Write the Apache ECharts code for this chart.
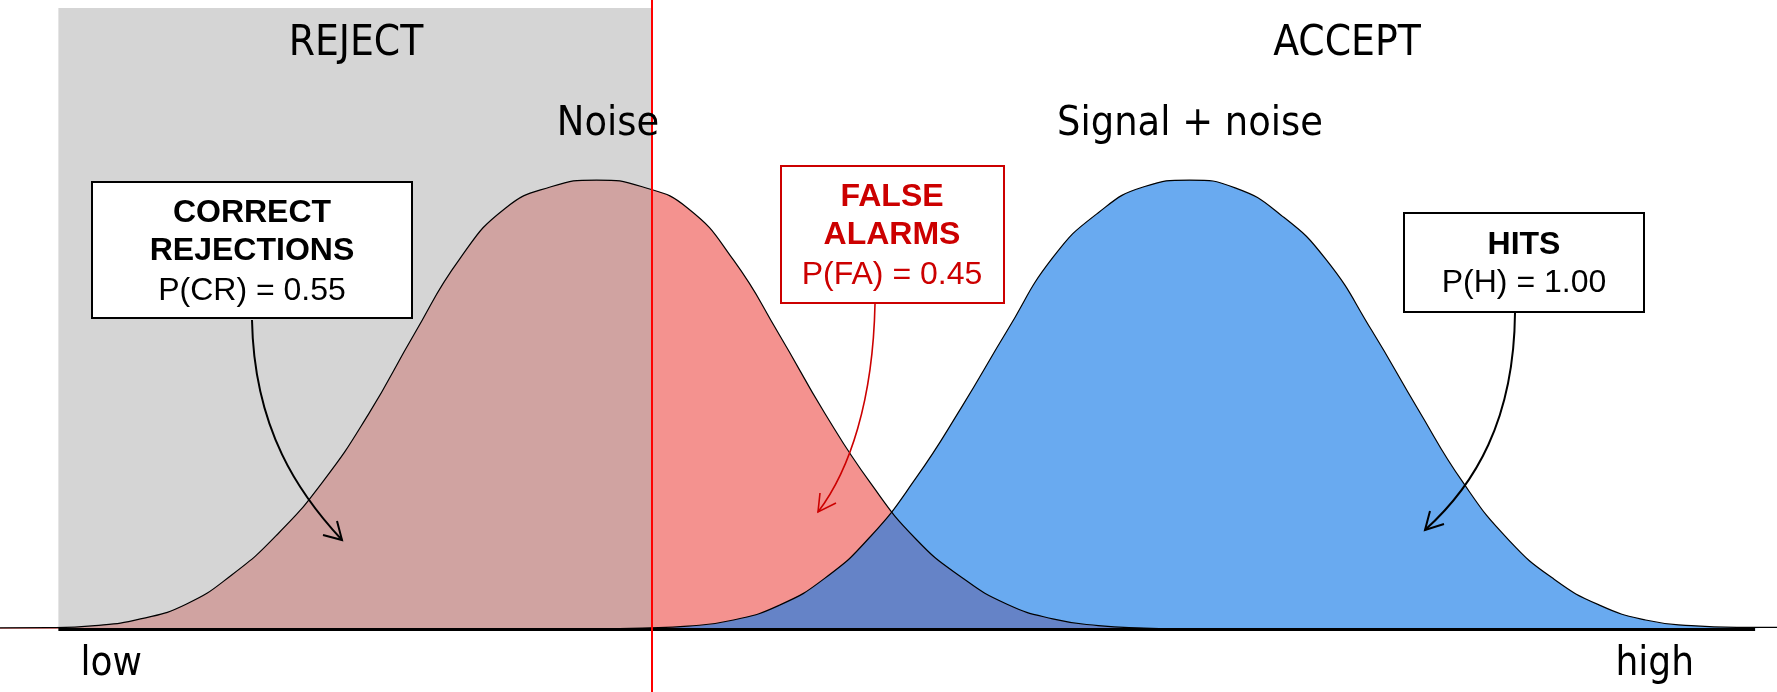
<!DOCTYPE html>
<html>
<head>
<meta charset="utf-8">
<script src="https://cdn.jsdelivr.net/npm/echarts@6/dist/echarts.min.js"></script>
<style>
html, body { margin: 0; padding: 0; background: #fff; }
#main { width: 1777px; height: 692px; }
</style>
</head>
<body>
<div id="main"></div>
<script>
// decision axis in noise-sd units, curve heights as density
var noiseX = [-3.27, -3.0, -2.75, -2.5, -2.25, -2.0, -1.75, -1.5, -1.25, -1.0, -0.75, -0.5, -0.25, 0,
  0.25, 0.5, 0.75, 1.0, 1.25, 1.5, 1.75, 2.0, 2.25, 2.5, 2.75, 3.0, 3.25];
var noiseY = [0.001, 0.0012, 0.003, 0.009, 0.022, 0.048, 0.084, 0.131, 0.191, 0.262, 0.329, 0.374, 0.393, 0.399,
  0.393, 0.374, 0.328, 0.262, 0.192, 0.130, 0.080, 0.046, 0.022, 0.009, 0.003, 0.0008, 0];

var signalX = [0, 0.25, 0.5, 0.75, 1.0, 1.25, 1.5, 1.75, 2.0, 2.25, 2.5, 2.75, 3.0, 3.25,
  3.5, 3.75, 4.0, 4.25, 4.5, 4.75, 5.0, 5.25, 5.5, 5.75, 6.0, 6.25, 6.47];
var signalY = [0, 0.0008, 0.0025, 0.008, 0.021, 0.045, 0.082, 0.134, 0.197, 0.265, 0.330, 0.370, 0.393, 0.399,
  0.392, 0.368, 0.328, 0.265, 0.196, 0.130, 0.079, 0.044, 0.021, 0.008, 0.003, 0.0015, 0.0015];

var criterion = 0.3;
var axisStart = -2.95;
var axisEnd = 6.35;
var bandTop = 0.552;

var tickPos = [-2.66, 5.8];
var tickLabels = ['low', 'high'];

var noiseData = noiseX.map(function (x, i) { return [x, noiseY[i]]; });
var signalData = signalX.map(function (x, i) { return [x, signalY[i]]; });

var bigFont = "'DejaVu Sans Condensed', 'DejaVu Sans', sans-serif";
var boxFont = "'Liberation Sans', Arial, sans-serif";

function txt(s, x, y, size, weight, color, family) {
  return {
    type: 'text', z: 100,
    style: {
      text: s, x: x, y: y, align: 'center', verticalAlign: 'middle',
      fontSize: size, fontWeight: weight, fontFamily: family, fill: color
    }
  };
}
function box(x, y, w, h, color) {
  return {
    type: 'rect', z: 90,
    shape: { x: x, y: y, width: w, height: h },
    style: { fill: '#fff', stroke: color, lineWidth: 2 }
  };
}
function arrow(p, head, color, width) {
  return [{
    type: 'bezierCurve', z: 95,
    shape: { x1: p[0], y1: p[1], cpx1: p[2], cpy1: p[3], cpx2: p[4], cpy2: p[5], x2: p[6], y2: p[7] },
    style: { fill: null, stroke: color, lineWidth: width }
  }, {
    type: 'polyline', z: 95,
    shape: { points: head },
    style: { fill: null, stroke: color, lineWidth: width }
  }];
}

var chart = echarts.init(document.getElementById('main'));

var option = {
  animation: false,
  grid: { left: 0, right: 0, top: 0, bottom: 0, outerBoundsMode: 'none', containLabel: false },
  xAxis: {
    type: 'value',
    min: -3.27,
    max: 6.47,
    position: 'bottom',
    offset: -63,
    axisLine: { show: false, onZero: false },
    axisTick: { show: false },
    splitLine: { show: false },
    axisLabel: {
      customValues: tickPos,
      formatter: function (v) {
        var i = tickPos.indexOf(v);
        return i >= 0 ? tickLabels[i] : '';
      },
      fontSize: 40,
      fontFamily: bigFont,
      color: '#000',
      margin: 16
    }
  },
  yAxis: {
    type: 'value',
    min: -0.056,
    max: 0.559,
    show: false
  },
  series: [
    {
      name: 'Noise', type: 'line', data: noiseData, smooth: true, symbol: 'none', z: 2,
      lineStyle: { width: 0 },
      areaStyle: { color: '#f4928f', opacity: 1 }
    },
    {
      name: 'Signal + noise', type: 'line', data: signalData, smooth: true, symbol: 'none', z: 3,
      lineStyle: { width: 0 },
      areaStyle: { color: 'rgba(20,122,232,0.64)', opacity: 1 }
    },
    {
      // reject band, laid over the noise fill
      type: 'line', data: [], z: 4, silent: true,
      markArea: {
        silent: true,
        z: 4,
        itemStyle: { color: 'rgba(178,178,178,0.54)' },
        data: [[{ xAxis: axisStart, yAxis: 0 }, { xAxis: criterion, yAxis: bandTop }]]
      }
    },
    {
      type: 'line', data: noiseData, smooth: true, symbol: 'none', z: 5,
      lineStyle: { color: '#000', width: 1.2 }
    },
    {
      type: 'line', data: signalData, smooth: true, symbol: 'none', z: 5,
      lineStyle: { color: '#000', width: 1.2 }
    },
    {
      type: 'line', data: [], z: 6, silent: true,
      markLine: {
        silent: true,
        z: 6,
        symbol: 'none',
        label: { show: false },
        data: [
          [{ coord: [axisStart, 0], lineStyle: { color: '#000', width: 3, type: 'solid' } },
           { coord: [axisEnd, 0] }],
          { xAxis: criterion, lineStyle: { color: '#ff0000', width: 2, type: 'solid' } }
        ]
      }
    }
  ],
  graphic: [].concat(
    [
      txt('REJECT', 356, 44, 42, 'normal', '#000', bigFont),
      txt('ACCEPT', 1347, 44, 42, 'normal', '#000', bigFont),
      txt('Noise', 608, 124, 41, 'normal', '#000', bigFont),
      txt('Signal + noise', 1190, 124, 41, 'normal', '#000', bigFont),

      box(92, 182, 320, 136, '#000'),
      txt('CORRECT', 252, 213, 32, 'bold', '#000', boxFont),
      txt('REJECTIONS', 252, 251, 32, 'bold', '#000', boxFont),
      txt('P(CR) = 0.55', 252, 291, 32, 'normal', '#000', boxFont),

      box(781, 166, 223, 137, '#cc0000'),
      txt('FALSE', 892, 197, 32, 'bold', '#cc0000', boxFont),
      txt('ALARMS', 892, 235, 32, 'bold', '#cc0000', boxFont),
      txt('P(FA) = 0.45', 892, 275, 32, 'normal', '#cc0000', boxFont),

      box(1404, 213, 240, 99, '#000'),
      txt('HITS', 1524, 245, 32, 'bold', '#000', boxFont),
      txt('P(H) = 1.00', 1524, 283, 32, 'normal', '#000', boxFont)
    ],
    arrow([252, 320, 254, 430, 300, 495, 342, 540], [[323, 535], [342, 540], [337, 521]], '#000', 2),
    arrow([875, 304, 873, 400, 850, 470, 818, 512], [[820, 493], [818, 512], [836, 503]], '#cc0000', 1.6),
    arrow([1515, 313, 1514, 420, 1475, 485, 1425, 530], [[1430, 511], [1425, 530], [1444, 524]], '#000', 2)
  )
};

chart.setOption(option);
</script>
</body>
</html>
